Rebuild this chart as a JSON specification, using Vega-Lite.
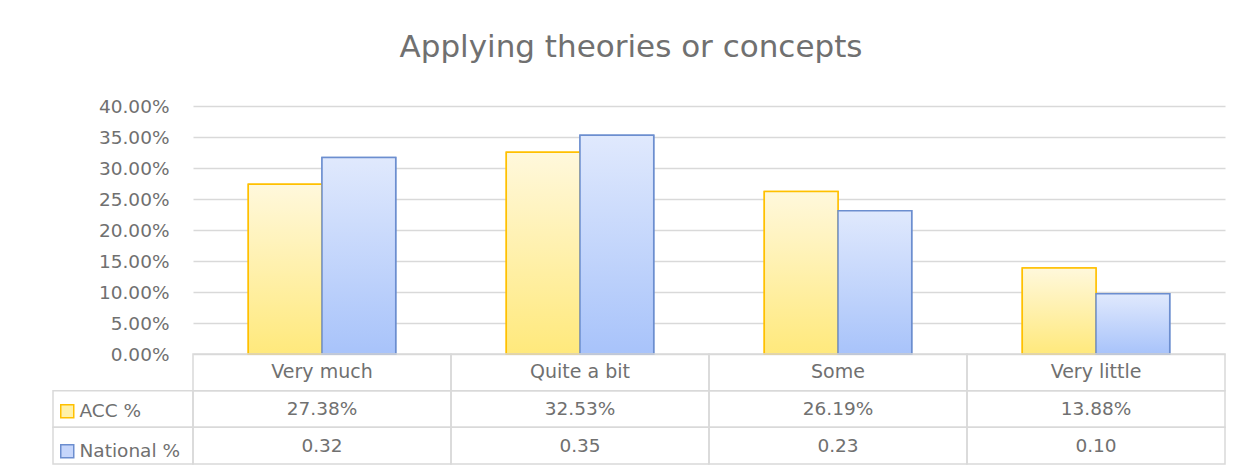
{
  "$schema": "https://vega.github.io/schema/vega-lite/v6.json",
  "padding": {"left": 52, "top": 32, "right": 27, "bottom": 8},
  "background": "white",
  "title": {"text": "Applying theories or concepts", "fontSize": 31, "font": "DejaVu Sans", "fontWeight": "normal", "color": "#707070", "anchor": "middle", "offset": 33, "dx": -8},
  "datasets": {
    "d": [
      {"category": "Very much", "series": "ACC %", "value": 0.2738},
      {"category": "Very much", "series": "National %", "value": 0.317},
      {"category": "Quite a bit", "series": "ACC %", "value": 0.3253},
      {"category": "Quite a bit", "series": "National %", "value": 0.353},
      {"category": "Some", "series": "ACC %", "value": 0.2619},
      {"category": "Some", "series": "National %", "value": 0.231},
      {"category": "Very little", "series": "ACC %", "value": 0.1388},
      {"category": "Very little", "series": "National %", "value": 0.097}
    ]
  },
  "columns": 2,
  "spacing": 0,
  "bounds": "flush",
  "concat": [
    {
      "width": 140,
      "height": 248,
      "data": {"values": [{}]},
      "mark": {"type": "text", "text": ""},
      "encoding": {}
    },
    {
      "width": 1032,
      "height": 248,
      "data": {"name": "d"},
      "encoding": {
        "x": {"field": "category", "type": "nominal", "sort": ["Very much", "Quite a bit", "Some", "Very little"], "scale": {"paddingInner": 0.4286, "paddingOuter": 0.2143}, "axis": null},
        "xOffset": {"field": "series", "type": "nominal", "scale": {"domain": ["ACC %", "National %"], "paddingInner": 0, "paddingOuter": 0}},
        "y": {"field": "value", "type": "quantitative", "scale": {"domain": [0, 0.4], "nice": false},
          "axis": {"format": ".2%", "values": [0, 0.05, 0.1, 0.15, 0.2, 0.25, 0.3, 0.35, 0.4], "domain": false, "ticks": false, "gridColor": "#D9D9D9", "gridWidth": 1.3, "labelFontSize": 18.5, "labelFont": "DejaVu Sans", "labelColor": "#707070", "labelPadding": 24, "title": null}},
        "stroke": {"field": "series", "type": "nominal",
          "scale": {"domain": ["ACC %", "National %"], "range": ["#FFC000", "#6C8ECF"]},
          "legend": {"orient": "none", "legendX": 5, "legendY": 296, "title": null, "symbolType": "square", "symbolSize": 169, "symbolStrokeWidth": 1.5, "labelFontSize": 18.5, "labelFont": "DejaVu Sans", "labelColor": "#707070", "rowPadding": 20, "labelOffset": 3, "direction": "vertical"}}
      },
      "layer": [
        {
          "mark": {"type": "bar", "strokeWidth": 1.5},
          "encoding": {
            "fill": {"field": "series", "type": "nominal",
              "scale": {"domain": ["ACC %", "National %"], "range": ["#FFF1A8", "#C6D6FB"]},
              "legend": {"orient": "none", "legendX": 5, "legendY": 296, "title": null, "symbolType": "square", "symbolSize": 169, "symbolStrokeWidth": 1.5, "labelFontSize": 18.5, "labelFont": "DejaVu Sans", "labelColor": "#707070", "rowPadding": 20, "labelOffset": 3, "direction": "vertical"}}
          }
        },
        {
          "transform": [{"filter": "datum.series === 'ACC %'"}],
          "mark": {"type": "bar", "strokeWidth": 1.5, "fill": {"gradient": "linear", "x1": 0, "y1": 0, "x2": 0, "y2": 1, "stops": [{"offset": 0, "color": "#FFF8DC"}, {"offset": 1, "color": "#FFE97C"}]}}
        },
        {
          "transform": [{"filter": "datum.series === 'National %'"}],
          "mark": {"type": "bar", "strokeWidth": 1.5, "fill": {"gradient": "linear", "x1": 0, "y1": 0, "x2": 0, "y2": 1, "stops": [{"offset": 0, "color": "#E0E9FD"}, {"offset": 1, "color": "#A8C3FA"}]}}
        }
      ]
    },
    {
      "width": 140,
      "height": 110,
      "data": {"name": "d"},
      "transform": [{"filter": "datum.category === 'Very much'"}],
      "mark": {"type": "rect", "fill": "white", "fillOpacity": 0, "stroke": "#D9D9D9", "strokeWidth": 1.5},
      "encoding": {
        "y": {"field": "series", "type": "nominal", "scale": {"domain": ["h", "ACC %", "National %"], "paddingInner": 0, "paddingOuter": 0}, "axis": null}
      }
    },
    {
      "width": 1032,
      "height": 110,
      "data": {"name": "d"},
      "encoding": {
        "x": {"field": "category", "type": "nominal", "sort": ["Very much", "Quite a bit", "Some", "Very little"], "scale": {"paddingInner": 0, "paddingOuter": 0}, "axis": null}
      },
      "layer": [
        {
          "mark": {"type": "rect", "fill": "white", "fillOpacity": 0, "stroke": "#D9D9D9", "strokeWidth": 1.5},
          "encoding": {
            "y": {"field": "series", "type": "nominal", "scale": {"domain": ["h", "ACC %", "National %"], "paddingInner": 0, "paddingOuter": 0}, "axis": null}
          }
        },
        {
          "transform": [{"filter": "datum.series === 'ACC %'"}],
          "mark": {"type": "rect", "fill": "white", "fillOpacity": 0, "stroke": "#D9D9D9", "strokeWidth": 1.5},
          "encoding": {
            "y": {"datum": "h", "type": "nominal"}
          }
        },
        {
          "transform": [{"filter": "datum.series === 'ACC %'"}],
          "mark": {"type": "text", "fontSize": 19, "font": "DejaVu Sans", "color": "#707070"},
          "encoding": {
            "y": {"datum": "h", "type": "nominal"},
            "text": {"field": "category"}
          }
        },
        {
          "transform": [{"filter": "datum.series === 'ACC %'"}],
          "mark": {"type": "text", "fontSize": 18.5, "font": "DejaVu Sans", "color": "#707070"},
          "encoding": {
            "y": {"field": "series", "type": "nominal"},
            "text": {"field": "value", "type": "quantitative", "format": ".2%"}
          }
        },
        {
          "transform": [{"filter": "datum.series === 'National %'"}],
          "mark": {"type": "text", "fontSize": 18.5, "font": "DejaVu Sans", "color": "#707070"},
          "encoding": {
            "y": {"field": "series", "type": "nominal"},
            "text": {"field": "value", "type": "quantitative", "format": ".2f"}
          }
        }
      ]
    }
  ],
  "config": {
    "view": {"stroke": null},
    "font": "DejaVu Sans"
  }
}
